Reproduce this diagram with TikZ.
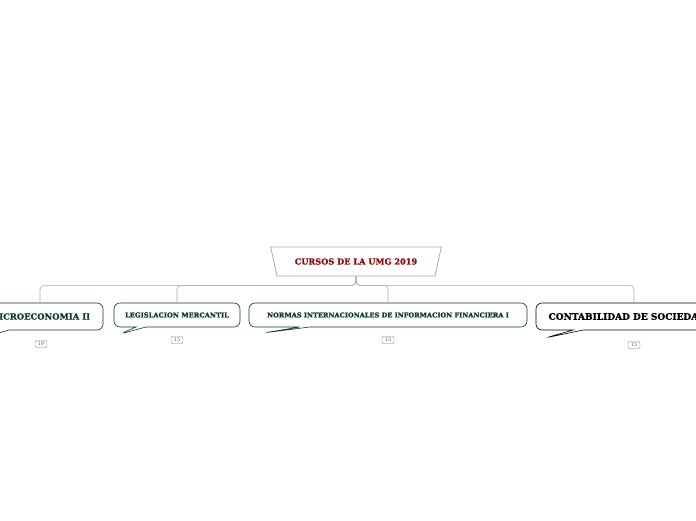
\documentclass[tikz,border=0pt]{standalone}
\usepackage{fontspec}
\setmainfont{DejaVu Serif}
\newfontfamily\heavy[FakeBold=1.2]{DejaVu Serif Bold}
\usetikzlibrary{shapes.geometric,shapes.callouts,positioning}

\definecolor{umgred}{HTML}{8B0E0E}
\definecolor{umggreen}{HTML}{0B3B2B}
\definecolor{linegray}{HTML}{AAAAAA}

\begin{document}
\begin{tikzpicture}[
  x=1pt, y=-1pt,
  title/.style = {draw=linegray, fill=white, thick, trapezium, shape border rotate=180,
    trapezium stretches=true, trapezium angle=68, minimum width=171pt, minimum height=29pt,
    font=\heavy\fontsize{8.2}{9}\selectfont, text=umgred},
  course/.style = {draw=umggreen, fill=white, semithick, rectangle callout, rounded corners=6pt,
    callout pointer width=10pt, text=umggreen, inner sep=0pt},
  badge/.style = {draw=gray, rounded corners=2pt, minimum width=12pt, minimum height=7pt,
    inner sep=0pt, font=\fontsize{5}{5}\selectfont, text=gray!70!black},
  branch/.style = {draw=linegray, semithick, rounded corners=4pt}
]
\useasboundingbox (0,0) rectangle (696,520);

\node[title] (root) at (356,261.5) {CURSOS DE LA UMG 2019};

% courses
\node[course, minimum width=126pt, minimum height=27pt, callout absolute pointer={(-12,336)},
  font=\heavy\fontsize{8.4}{9}\selectfont] (micro) at (40,316.5) {MICROECONOMIA II};
\node[course, minimum width=126pt, minimum height=24pt, callout absolute pointer={(120,334)},
  font=\heavy\fontsize{6.7}{7}\selectfont] (legis) at (177,315) {LEGISLACION MERCANTIL};
\node[course, minimum width=278pt, minimum height=24pt, callout absolute pointer={(263,333)},
  font=\heavy\fontsize{6.6}{7}\selectfont] (niif) at (388,315) {NORMAS INTERNACIONALES DE INFORMACION FINANCIERA I};
\node[course, draw=black, text=black, minimum width=196pt, minimum height=27pt,
  callout absolute pointer={(545,338)},
  font=\heavy\fontsize{9}{10}\selectfont] (conta) at (634,316.5) {CONTABILIDAD DE SOCIEDADES};

% badges
\node[badge] (b1) at (41,344) {19};
\node[badge] (b2) at (177,340) {15};
\node[badge] (b3) at (388,340) {15};
\node[badge] (b4) at (634,345) {15};

% connectors
\foreach \c in {micro,legis,niif,conta}
  \draw[branch] (root.south) -- ++(0,9) -| (\c.north);

\end{tikzpicture}
\end{document}
